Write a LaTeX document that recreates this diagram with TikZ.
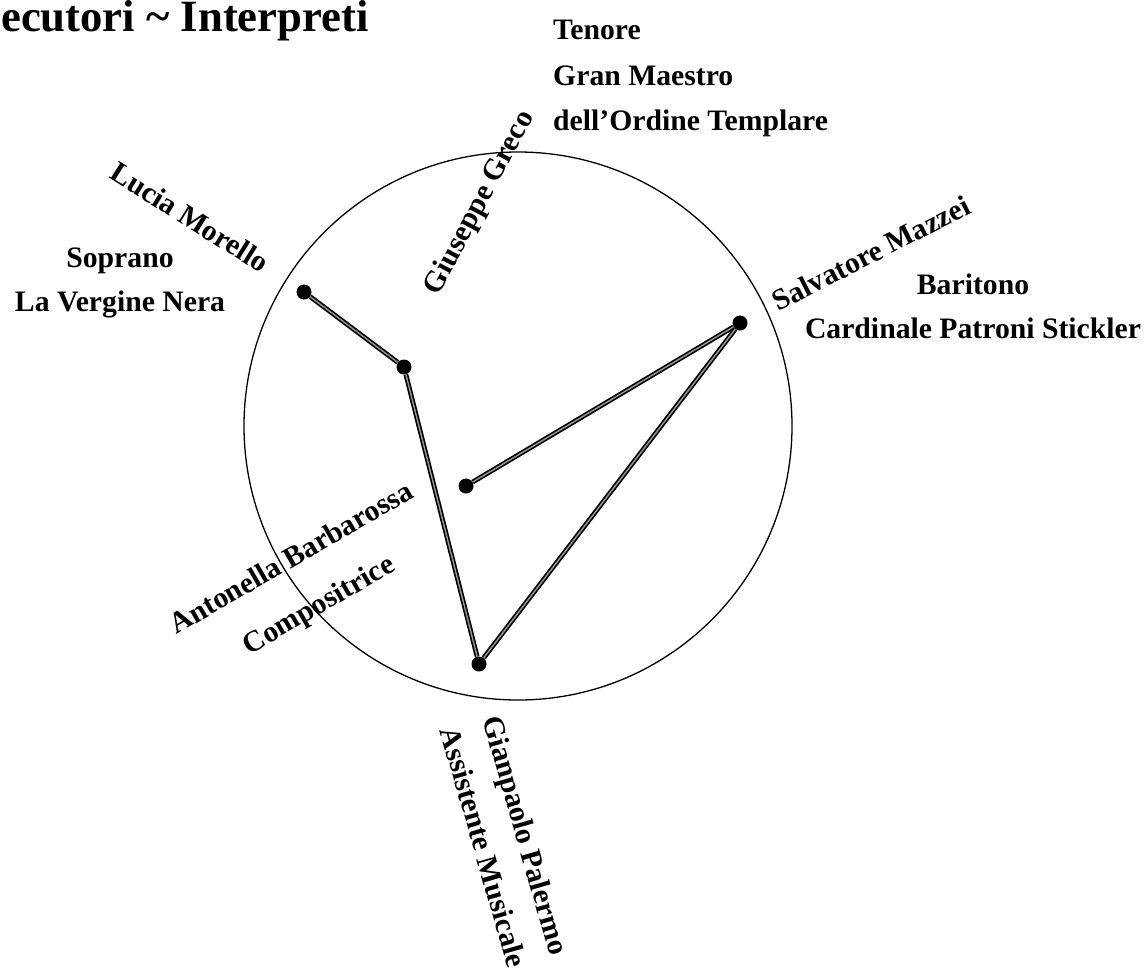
\documentclass[tikz,border=0pt]{standalone}
\usepackage{fontspec}
\setmainfont{Liberation Serif}
\begin{document}
\begin{tikzpicture}[x=1pt,y=-1pt,
  lbl/.style={font={\fontsize{29.7}{44}\selectfont\bfseries}, inner sep=0pt},
  dot/.style={circle, fill=black, inner sep=0pt, minimum size=15pt},
  link/.style={draw=black, line width=1.7pt, double=black!40, double distance=1.4pt}]
\clip (0,0) rectangle (1145,970);
\fill[white] (0,0) rectangle (1145,970);
% title
\node[font={\fontsize{44.7}{50}\selectfont\bfseries}, inner sep=0pt, anchor=base west] (title) at (1,31) {ecutori \textasciitilde\ Interpreti};
% circle
\draw[line width=1.3pt] (518,426) circle[radius=274];
% dots
\node[dot] (lucia) at (304,292) {};
\node[dot] (mid) at (404,367) {};
\node[dot] (cen) at (466,486) {};
\node[dot] (salv) at (740,323) {};
\node[dot] (gian) at (479,664) {};
% links
\draw[link] (lucia) -- (mid);
\draw[link] (mid) -- (gian);
\draw[link] (cen) -- (salv);
\draw[link] (salv) -- (gian);
% labels
\node[lbl, align=left, anchor=north west, font={\fontsize{29.7}{45.5}\selectfont\bfseries}] (tenore) at (553,20) {Tenore\\Gran Maestro\\dell’Ordine Templare};
\node[lbl, align=center, anchor=north] (soprano) at (120,248) {Soprano\\La Vergine Nera};
\node[lbl, align=center, anchor=north] (baritono) at (973,274) {Baritono\\Cardinale Patroni Stickler};
\node[lbl, rotate=-32] (nlucia) at (190,217) {Lucia Morello};
\node[lbl, rotate=62] (ngius) at (480,203) {Giuseppe Greco};
\node[lbl, rotate=27] (nsalv) at (871,253) {Salvatore Mazzei};
\node[lbl, rotate=30, align=center, font={\fontsize{29.7}{54}\selectfont\bfseries}] (nanto) at (306,583) {Antonella Barbarossa\\Compositrice};
\node[lbl, rotate=-74, align=center] (ngian) at (505,841) {Gianpaolo Palermo\\Assistente Musicale};
\end{tikzpicture}
\end{document}
